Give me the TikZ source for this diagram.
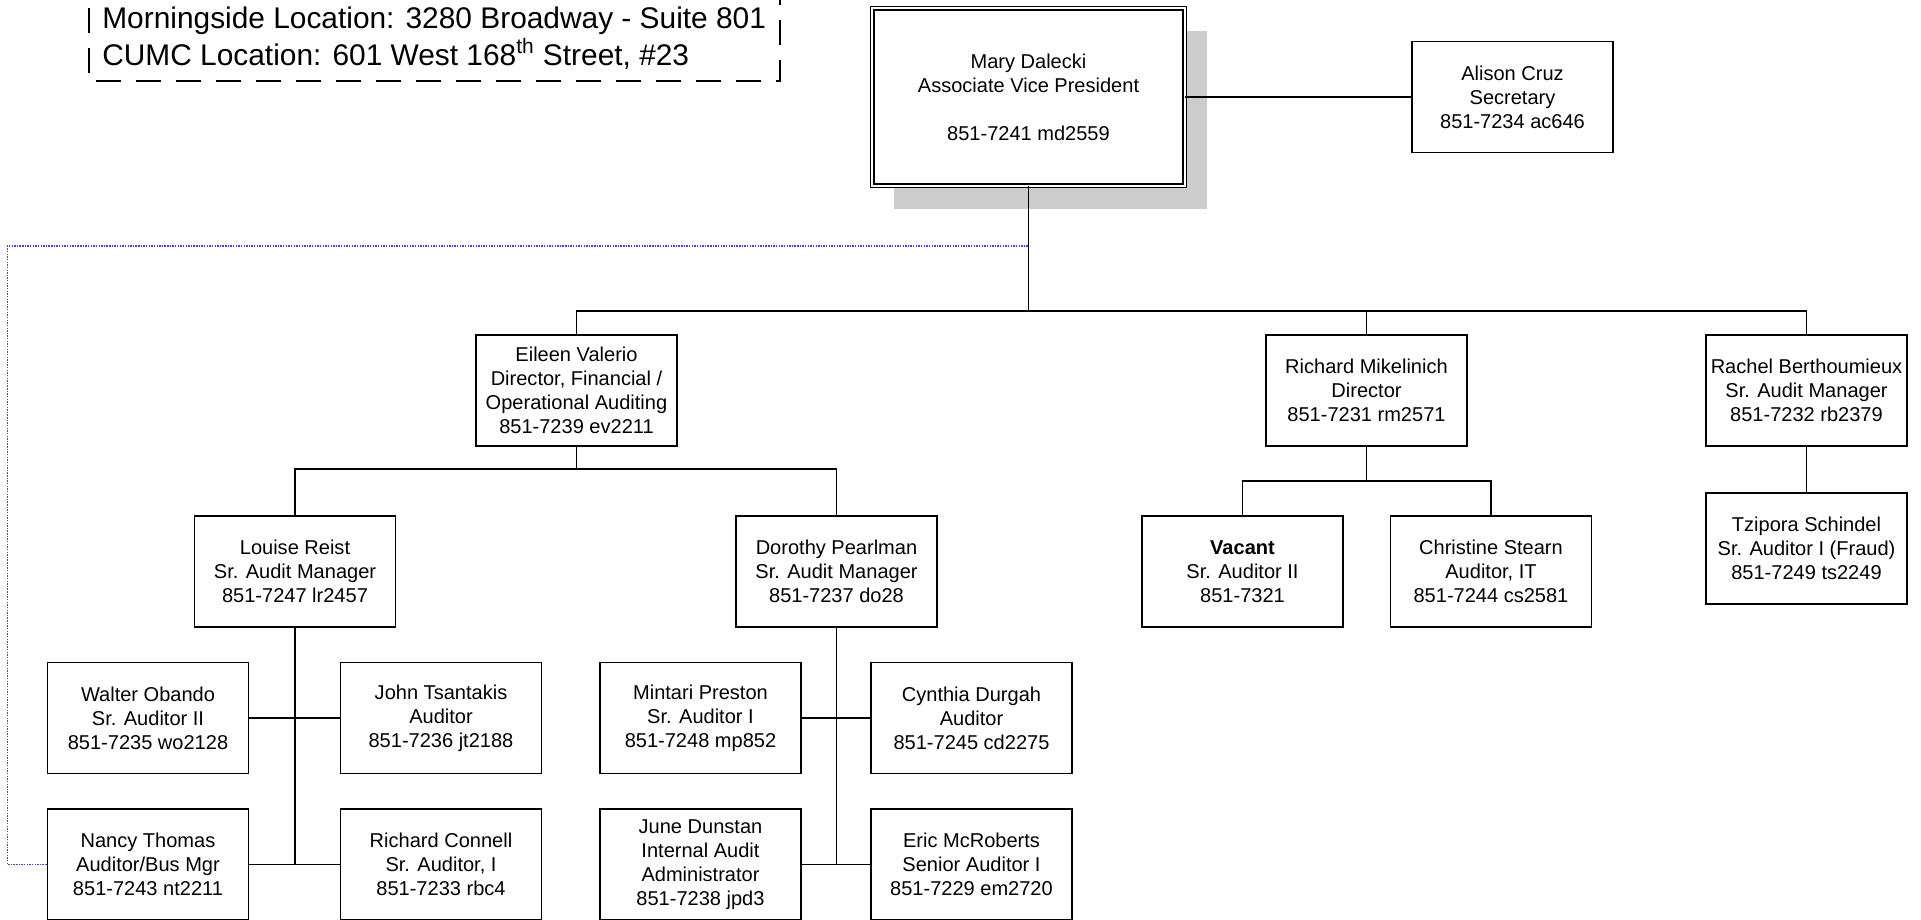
\documentclass[tikz,border=0pt]{standalone}
\usepackage{fontspec}
\setmainfont{Liberation Sans}
\usetikzlibrary{shadows}
\definecolor{linkblue}{RGB}{64,64,255}

\begin{document}
\begin{tikzpicture}[
    person/.style={draw, line width=1.1pt, fill=white, minimum width=4.02cm,
        minimum height=2.22cm, align=center, inner sep=0pt,
        font=\fontsize{11.4}{13.7}\selectfont},
    chief/.style={person, double, line width=0.7pt, double distance=1.4pt,
        minimum width=6.25cm, minimum height=3.55cm,
        drop shadow={shadow xshift=0.44cm, shadow yshift=-0.46cm, fill=black!20, opacity=1}},
    wire/.style={line width=1pt},
    liaison/.style={linkblue, line width=0.8pt, dash pattern=on 0.8pt off 0.7pt},
    notedash/.style={line width=0.8pt, dash pattern=on 0.5cm off 0.3cm},
    notetext/.style={anchor=base west, inner sep=0pt, font=\fontsize{17}{21}\selectfont}
]
    \path[use as bounding box] (0,0) rectangle (38.42,-18.38);
    \clip (0,0) rectangle (38.42,-18.38);

    % Locations note
    \draw[notedash] (15.6,0.4) |- (1.78,-1.62) -- (1.78,0.4);
    \node[notetext] (morningside) at (2.04,-0.56) {Morningside Location: 3280 Broadway - Suite 801};
    \node[notetext] (cumc) at (2.04,-1.30) {CUMC Location: 601 West 168\textsuperscript{th} Street, \#23};

    % Top
    \node[chief] (mary) at (20.57,-1.94) {Mary Dalecki\\Associate Vice President\\[13.7pt]851-7241 md2559};
    \node[person] (alison) at (30.25,-1.94) {Alison Cruz\\Secretary\\851-7234 ac646};

    % Directors
    \node[person] (eileen) at (11.53,-7.81) {Eileen Valerio\\Director, Financial /\\Operational Auditing\\851-7239 ev2211};
    \node[person] (richard) at (27.33,-7.81) {Richard Mikelinich\\Director\\851-7231 rm2571};
    \node[person] (rachel) at (36.13,-7.81) {Rachel Berthoumieux\\Sr. Audit Manager\\851-7232 rb2379};

    % Managers
    \node[person] (louise) at (5.90,-11.43) {Louise Reist\\Sr. Audit Manager\\851-7247 lr2457};
    \node[person] (dorothy) at (16.73,-11.43) {Dorothy Pearlman\\Sr. Audit Manager\\851-7237 do28};
    \node[person] (vacant) at (24.85,-11.43) {\textbf{Vacant}\\Sr. Auditor II\\851-7321};
    \node[person] (christine) at (29.82,-11.43) {Christine Stearn\\Auditor, IT\\851-7244 cs2581};
    \node[person] (tzipora) at (36.13,-10.97) {Tzipora Schindel\\Sr. Auditor I (Fraud)\\851-7249 ts2249};

    % Auditors
    \node[person] (walter) at (2.96,-14.36) {Walter Obando\\Sr. Auditor II\\851-7235 wo2128};
    \node[person] (john) at (8.82,-14.36) {John Tsantakis\\Auditor\\851-7236 jt2188};
    \node[person] (mintari) at (14.01,-14.36) {Mintari Preston\\Sr. Auditor I\\851-7248 mp852};
    \node[person] (cynthia) at (19.43,-14.36) {Cynthia Durgah\\Auditor\\851-7245 cd2275};
    \node[person] (nancy) at (2.96,-17.29) {Nancy Thomas\\Auditor/Bus Mgr\\851-7243 nt2211};
    \node[person] (connell) at (8.82,-17.29) {Richard Connell\\Sr. Auditor, I\\851-7233 rbc4};
    \node[person] (june) at (14.01,-17.29) {June Dunstan\\Internal Audit\\Administrator\\851-7238 jpd3};
    \node[person] (eric) at (19.43,-17.29) {Eric McRoberts\\Senior Auditor I\\851-7229 em2720};

    % Bus points
    \coordinate (busA) at (20.57,-6.22);
    \coordinate (busB) at (11.53,-9.38);
    \coordinate (busC) at (27.33,-9.62);
    \coordinate (loopcorner) at (0.15,-4.92);

    % Lines
    \draw[wire] (mary.east) -- (alison.west);
    \draw[wire] (mary.south) -- (busA);
    \draw[wire] (eileen.north) |- (busA) -| (rachel.north);
    \draw[wire] (busA -| richard.north) -- (richard.north);
    \draw[wire] (eileen.south) -- (busB);
    \draw[wire] (louise.north) |- (busB) -| (dorothy.north);
    \draw[wire] (richard.south) -- (busC);
    \draw[wire] (vacant.north) |- (busC) -| (christine.north);
    \draw[wire] (rachel.south) -- (tzipora.north);
    \draw[wire] (louise.south) -- (louise.south |- nancy.east);
    \draw[wire] (walter.east) -- (john.west);
    \draw[wire] (nancy.east) -- (connell.west);
    \draw[wire] (dorothy.south) -- (dorothy.south |- june.east);
    \draw[wire] (mintari.east) -- (cynthia.west);
    \draw[wire] (june.east) -- (eric.west);

    % Dotted link
    \draw[liaison] (nancy.west) -| (loopcorner) -- (loopcorner -| mary.south);
\end{tikzpicture}
\end{document}
